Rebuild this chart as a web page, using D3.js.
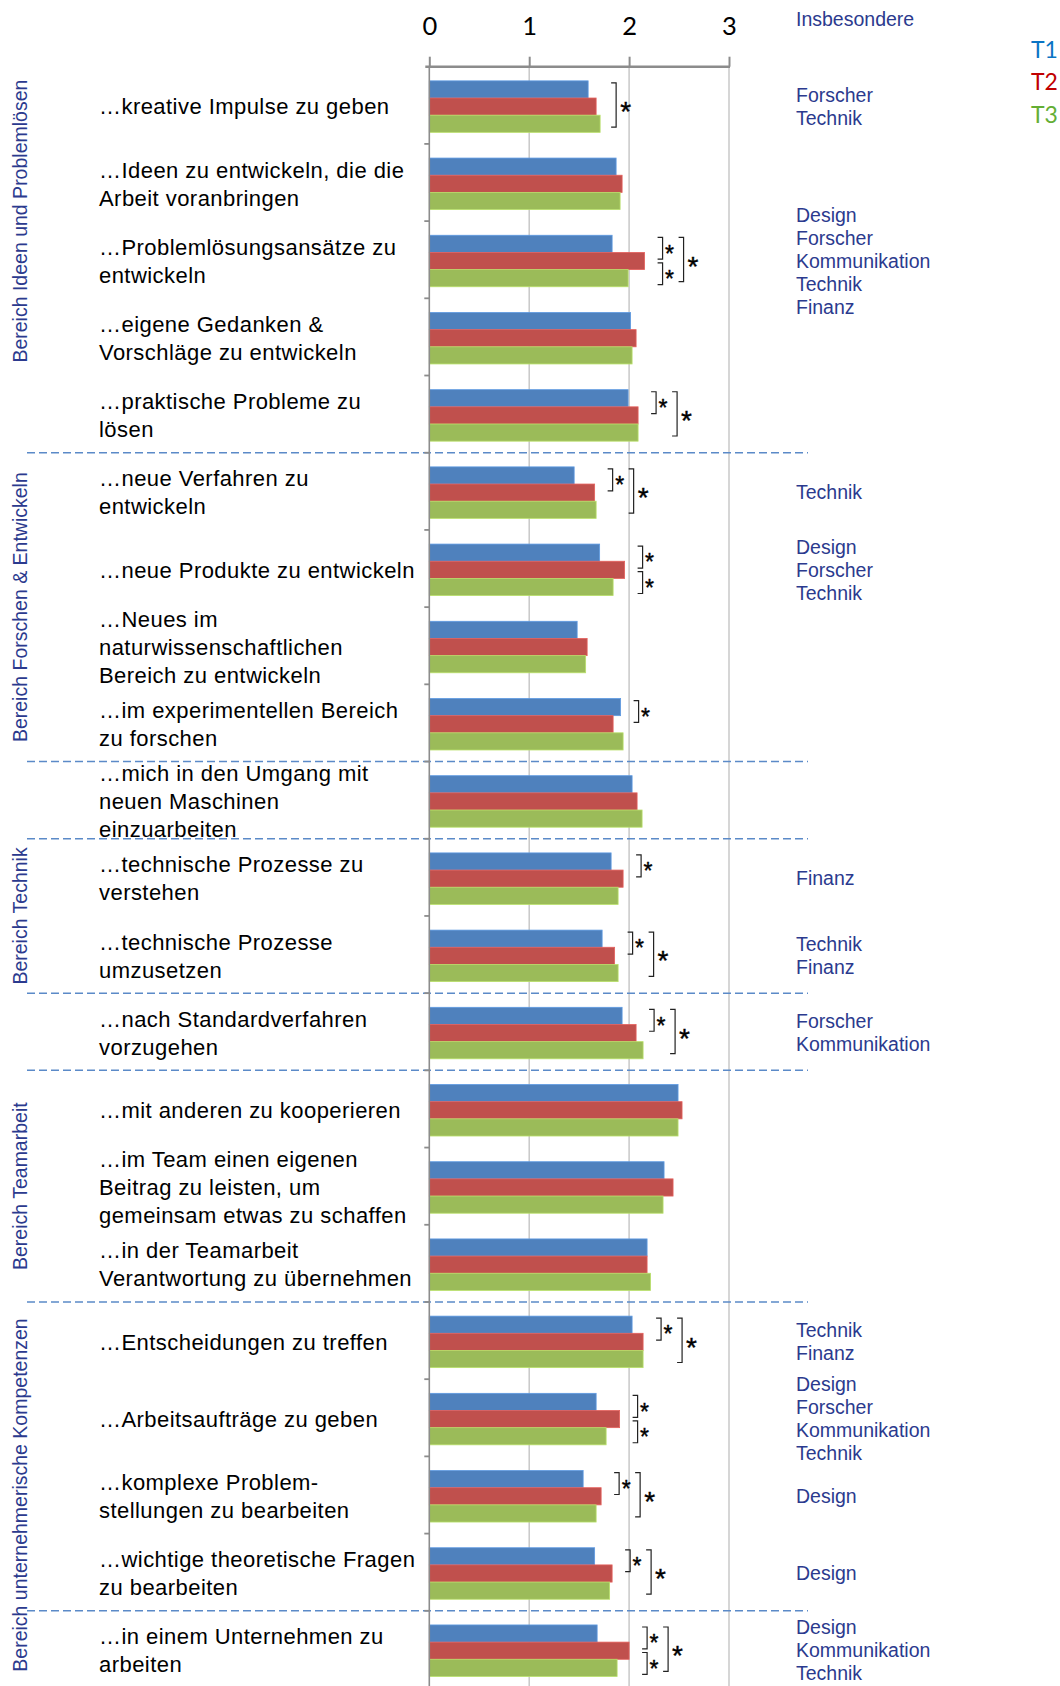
<!DOCTYPE html>
<html><head><meta charset="utf-8">
<script src="https://cdn.jsdelivr.net/npm/d3@7"></script>
<style>body{margin:0;background:#fff}svg{display:block}</style>
</head><body>
<svg id="c" width="1060" height="1686"></svg>
<script>
const seriesNames = ["T1", "T2", "T3"];
const seriesColors = ["#4F81BD", "#C0504D", "#9BBB59"];
const legendColors = ["#0A74C4", "#C00000", "#64AE34"];
const tickValues = [0, 1, 2, 3];
const columnTitle = "Insbesondere";

const categories = [
  ["…kreative Impulse zu geben"],
  ["…Ideen zu entwickeln, die die", "Arbeit voranbringen"],
  ["…Problemlösungsansätze zu", "entwickeln"],
  ["…eigene Gedanken &", "Vorschläge zu entwickeln"],
  ["…praktische Probleme zu", "lösen"],
  ["…neue Verfahren zu", "entwickeln"],
  ["…neue Produkte zu entwickeln"],
  ["…Neues im", "naturwissenschaftlichen", "Bereich zu entwickeln"],
  ["…im experimentellen Bereich", "zu forschen"],
  ["…mich in den Umgang mit", "neuen Maschinen", "einzuarbeiten"],
  ["…technische Prozesse zu", "verstehen"],
  ["…technische Prozesse", "umzusetzen"],
  ["…nach Standardverfahren", "vorzugehen"],
  ["…mit anderen zu kooperieren"],
  ["…im Team einen eigenen", "Beitrag zu leisten, um", "gemeinsam etwas zu schaffen"],
  ["…in der Teamarbeit", "Verantwortung zu übernehmen"],
  ["…Entscheidungen zu treffen"],
  ["…Arbeitsaufträge zu geben"],
  ["…komplexe Problem-", "stellungen zu bearbeiten"],
  ["…wichtige theoretische Fragen", "zu bearbeiten"],
  ["…in einem Unternehmen zu", "arbeiten"]
];

const t1 = [1.59, 1.87, 1.83, 2.015, 1.99, 1.45, 1.705, 1.48, 1.915, 2.03, 1.82, 1.73, 1.93, 2.49, 2.35, 2.18, 2.03, 1.67, 1.54, 1.655, 1.68];
const t2 = [1.67, 1.93, 2.155, 2.07, 2.09, 1.655, 1.955, 1.58, 1.84, 2.08, 1.94, 1.855, 2.07, 2.53, 2.44, 2.18, 2.14, 1.905, 1.72, 1.83, 2.0];
const t3 = [1.71, 1.91, 1.99, 2.03, 2.09, 1.67, 1.84, 1.565, 1.94, 2.13, 1.89, 1.89, 2.14, 2.49, 2.34, 2.215, 2.14, 1.77, 1.67, 1.805, 1.88];

const insbesondere = [
  ["Forscher", "Technik"], [], ["Design", "Forscher", "Kommunikation", "Technik", "Finanz"], [], [],
  ["Technik"], ["Design", "Forscher", "Technik"], [], [],
  [],
  ["Finanz"], ["Technik", "Finanz"],
  ["Forscher", "Kommunikation"],
  [], [], [],
  ["Technik", "Finanz"], ["Design", "Forscher", "Kommunikation", "Technik"], ["Design"], ["Design"],
  ["Design", "Kommunikation", "Technik"]
];

// significant differences: pairs of series indices
const significance = [
  [[0, 2]], [], [[0, 1], [1, 2], [0, 2]], [], [[0, 1], [0, 2]],
  [[0, 1], [0, 2]], [[0, 1], [1, 2]], [], [[0, 1]],
  [],
  [[0, 1]], [[0, 1], [0, 2]],
  [[0, 1], [0, 2]],
  [], [], [],
  [[0, 1], [0, 2]], [[0, 1], [1, 2]], [[0, 1], [0, 2]], [[0, 1], [0, 2]],
  [[0, 1], [1, 2], [0, 2]]
];

const groupNames = ["Bereich Ideen und Problemlösen", "Bereich Forschen & Entwickeln", "Bereich Technik", "Bereich Teamarbeit", "Bereich unternehmerische Kompetenzen"];
const groupFirst = [0, 5, 10, 13, 16];
const groupLast = [3, 8, 11, 15, 20];
const separatorsAfter = [4, 8, 9, 11, 12, 15, 19];

const values = categories.map((c, i) => [t1[i], t2[i], t3[i]]);

const svg = d3.select("#c");
const navy = "#2B3A8E";
const sans = "'Liberation Sans', Arial, sans-serif";

const x = d3.scaleLinear().domain([0, 3]).range([429.3, 729]);
const y = d3.scaleBand().domain(d3.range(categories.length)).range([66.7, 1688])
  .paddingInner(0.333).paddingOuter(0.1665);
const yi = d3.scaleBand().domain([0, 1, 2]).range([0, y.bandwidth()]);
const boundary = i => y.range()[0] + i * y.step();
const center = i => y(i) + y.bandwidth() / 2;
const barShift = 1.3;

// gridlines
svg.append("g").selectAll("line").data(tickValues.filter(v => v > 0)).join("line")
  .attr("x1", d => x(d)).attr("x2", d => x(d)).attr("y1", 66.7).attr("y2", 1686)
  .attr("stroke", "#C8C8C8").attr("stroke-width", 1.5);

// separators
svg.append("g").selectAll("line").data(separatorsAfter).join("line")
  .attr("x1", 27).attr("x2", 808)
  .attr("y1", d => boundary(d + 1)).attr("y2", d => boundary(d + 1))
  .attr("stroke", "#5B8AC8").attr("stroke-width", 1.5).attr("stroke-dasharray", "8,4");

// bars
const gBars = svg.append("g").attr("transform", `translate(0,${barShift})`);
values.forEach((vals, i) => {
  gBars.append("g").selectAll("rect").data(vals).join("rect")
    .attr("x", x(0)).attr("y", (d, s) => y(i) + yi(s))
    .attr("width", d => x(d) - x(0)).attr("height", yi.bandwidth())
    .attr("fill", (d, s) => seriesColors[s])
    .attr("stroke", (d, s) => d3.color(seriesColors[s]).brighter(0.5))
    .attr("stroke-width", 0.8);
});

// category axis line + ticks at boundaries
svg.append("line").attr("x1", x(0)).attr("x2", x(0)).attr("y1", 66.7).attr("y2", 1686)
  .attr("stroke", "#8C8C8C").attr("stroke-width", 1.6);
svg.append("g").selectAll("line").data(d3.range(1, categories.length)).join("line")
  .attr("x1", x(0) - 5).attr("x2", x(0)).attr("y1", d => boundary(d)).attr("y2", d => boundary(d))
  .attr("stroke", "#8C8C8C").attr("stroke-width", 1.8);

// value axis on top
const ax = svg.append("g").attr("transform", "translate(0,66.7)")
  .call(d3.axisTop(x).tickValues(tickValues).tickFormat(d3.format("d")).tickSize(10).tickSizeOuter(0).tickPadding(21.7));
ax.select(".domain").attr("stroke", "#8C8C8C").attr("stroke-width", 2.6).attr("d", `M${x(0) - 4},0H${x(3) + 1}`);
ax.selectAll(".tick line").attr("stroke", "#8C8C8C").attr("stroke-width", 2);
ax.selectAll(".tick text").attr("fill", "#000").attr("font-family", "Lato, sans-serif").attr("font-size", 25.5);

// category labels
const gLab = svg.append("g").attr("font-family", sans).attr("font-size", 22).attr("fill", "#000");
categories.forEach((lines, i) => {
  const n = lines.length;
  gLab.append("g").selectAll("text").data(lines).join("text")
    .attr("x", 99).attr("y", (d, j) => center(i) + 9 + (j - (n - 1) / 2) * 28)
    .attr("letter-spacing", 0.45)
    .text(d => d);
});

// group labels
groupNames.forEach((name, k) => {
  const cy = (boundary(groupFirst[k]) + boundary(groupLast[k] + 1)) / 2;
  svg.append("text").attr("transform", `translate(26.5,${cy}) rotate(-90)`)
    .attr("text-anchor", "middle").attr("font-family", sans).attr("font-size", 19.5)
    .attr("fill", navy).text(name);
});

// right column
svg.append("text").attr("x", 796).attr("y", 26).attr("font-family", sans).attr("font-size", 19.5)
  .attr("fill", navy).text(columnTitle);
const gRight = svg.append("g").attr("font-family", sans).attr("font-size", 19.5).attr("fill", navy);
insbesondere.forEach((lines, i) => {
  const n = lines.length;
  gRight.append("g").selectAll("text").data(lines).join("text")
    .attr("x", 796).attr("y", (d, j) => center(i) + 8 + (j - (n - 1) / 2) * 23)
    .text(d => d);
});

// legend
svg.append("g").selectAll("text").data(seriesNames).join("text")
  .attr("x", 1031).attr("y", (d, i) => 58.3 + i * 32.15)
  .attr("font-family", "Lato, sans-serif").attr("font-size", 23)
  .attr("fill", (d, i) => legendColors[i]).text(d => d);

// significance brackets
const extents = { "0-1": [0.04, 0.465], "1-2": [0.535, 0.96], "0-2": [0.04, 0.9] };
const gSig = svg.append("g").attr("transform", `translate(0,${barShift})`);
significance.forEach((pairs, i) => {
  const vals = values[i];
  const g = y.bandwidth(), gt = y(i);
  const smallX = [];
  const items = [];
  pairs.forEach(([a, b]) => {
    if (b - a === 1) {
      const bx = x(Math.max(vals[a], vals[b])) + 18;
      smallX.push(bx);
      items.push({ a, b, bx, big: false });
    }
  });
  pairs.forEach(([a, b]) => {
    if (b - a === 2) {
      const bx = smallX.length ? d3.max(smallX) + 21 : x(d3.max(vals)) + 16;
      items.push({ a, b, bx, big: true });
    }
  });
  const sx = d3.max(items.filter(d => !d.big), d => d.bx);
  items.forEach(it => {
    if (!it.big) it.bx = sx;
    const e = extents[it.a + "-" + it.b];
    const y0 = gt + e[0] * g, y1 = gt + e[1] * g;
    gSig.append("path")
      .attr("d", `M${it.bx - 5},${y0}H${it.bx}V${y1}H${it.bx - 5}`)
      .attr("fill", "none").attr("stroke", "#222").attr("stroke-width", 1.2);
    const fs = it.big ? 28 : 23;
    gSig.append("text").attr("x", it.bx + (it.big ? 4 : 2.5)).attr("y", (y0 + y1) / 2 + 0.578 * fs)
      .attr("font-family", sans).attr("font-size", fs).attr("fill", "#000")
      .attr("stroke", "#000").attr("stroke-width", 0.4).text("*");
  });
});
</script>
</body></html>
